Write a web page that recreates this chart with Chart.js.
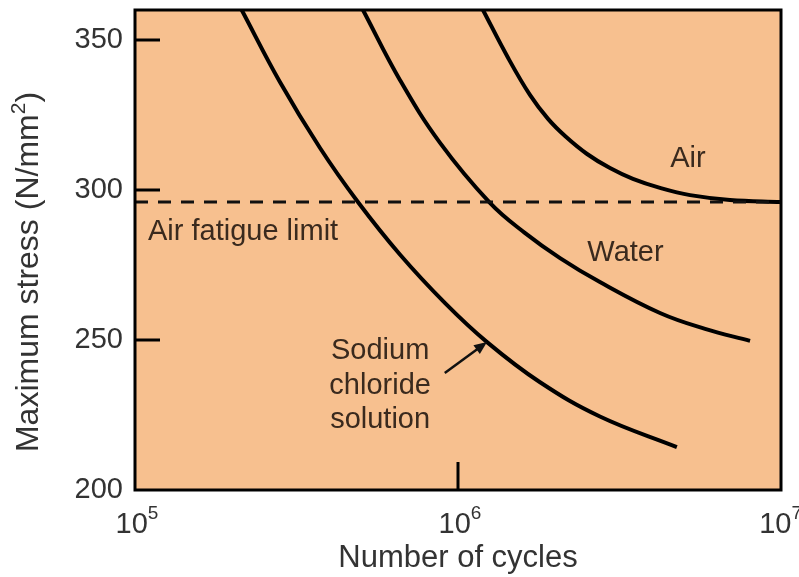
<!DOCTYPE html>
<html>
<head>
<meta charset="utf-8">
<script src="https://cdn.jsdelivr.net/npm/chart.js@4"></script>
<style>
  html, body { margin: 0; padding: 0; background: #fff; }
  #wrap { width: 799px; height: 577px; }
</style>
</head>
<body>
<div id="wrap"><canvas id="snChart" width="799" height="577"></canvas></div>
<script>
// S-N curves
const sodiumCycles = [2.14e5, 2.81e5, 3.74e5, 4.9e5, 6.61e5, 9.12e5, 1.23e6, 1.79e6, 2.75e6, 4.76e6];
const sodiumStress = [360, 336, 314, 296, 278.5, 262.3, 249.3, 236, 224.5, 214.3];

const waterCycles = [5.08e5, 6.61e5, 8.8e5, 1.256e6, 1.61e6, 2.07e6, 2.75e6, 4.22e6, 5.82e6, 8.02e6];
const waterStress = [360, 336.7, 315.7, 295.7, 285.7, 277.3, 269.3, 259, 253.7, 249.7];

const airCycles = [1.195e6, 1.43e6, 1.67e6, 1.9e6, 2.145e6, 2.51e6, 2.955e6, 3.48e6, 4.22e6, 5.23e6, 6.95e6, 1e7];
const airStress = [360, 344, 331.7, 323.7, 318, 312, 307.3, 303.7, 300.7, 298.3, 296.7, 296];

const fatigueLimit = 296;

const xTickPowers = [5, 6, 7];
const yTickValues = [200, 250, 300, 350];

const toPoints = (xs, ys) => xs.map((x, i) => ({ x: x, y: ys[i] }));

const FONT = "'Liberation Sans', Arial, sans-serif";
const TEXT = '#333';
const NOTE = '#3a2a1e';

// labels in the plot, placed in data units
const notes = [
  { text: 'Air', x: 5.15e6, y: 310.5, align: 'center' },
  { text: 'Water', x: 3.3e6, y: 279, align: 'center' },
  { text: 'Air fatigue limit', x: 1.097e5, y: 286, align: 'left' },
  { text: 'Sodium', x: 5.74e5, y: 246.5, align: 'center' },
  { text: 'chloride', x: 5.74e5, y: 234.7, align: 'center' },
  { text: 'solution', x: 5.74e5, y: 223.3, align: 'center' }
];
const arrowFrom = { x: 9.1e5, y: 239 };
const arrowTo = { x: 1.23e6, y: 249.3 };

const plotDecor = {
  id: 'plotDecor',
  beforeDatasetsDraw(chart) {
    const { ctx, chartArea: a } = chart;
    ctx.save();
    ctx.fillStyle = '#f7c08f';
    ctx.fillRect(a.left, a.top, a.right - a.left, a.bottom - a.top);
    ctx.restore();
  },
  afterDatasetsDraw(chart) {
    const { ctx, chartArea: a, scales } = chart;
    const xs = scales.x, ys = scales.y;
    ctx.save();

    // inner tick marks
    ctx.strokeStyle = '#000';
    ctx.lineWidth = 3;
    yTickValues.slice(1).forEach(v => {
      const py = ys.getPixelForValue(v);
      ctx.beginPath();
      ctx.moveTo(a.left, py);
      ctx.lineTo(a.left + 25, py);
      ctx.stroke();
    });
    const px6 = xs.getPixelForValue(1e6);
    ctx.beginPath();
    ctx.moveTo(px6, a.bottom);
    ctx.lineTo(px6, a.bottom - 28);
    ctx.stroke();

    // frame
    ctx.lineWidth = 3;
    ctx.strokeRect(a.left, a.top, a.right - a.left, a.bottom - a.top);

    // notes
    ctx.fillStyle = NOTE;
    ctx.font = '29px ' + FONT;
    ctx.textBaseline = 'middle';
    notes.forEach(n => {
      ctx.textAlign = n.align;
      ctx.fillText(n.text, xs.getPixelForValue(n.x), ys.getPixelForValue(n.y));
    });

    // arrow
    const x0 = xs.getPixelForValue(arrowFrom.x), y0 = ys.getPixelForValue(arrowFrom.y);
    const x1 = xs.getPixelForValue(arrowTo.x), y1 = ys.getPixelForValue(arrowTo.y);
    const ang = Math.atan2(y1 - y0, x1 - x0);
    ctx.strokeStyle = '#111';
    ctx.lineWidth = 2.5;
    ctx.beginPath();
    ctx.moveTo(x0, y0);
    ctx.lineTo(x1 - 8 * Math.cos(ang), y1 - 8 * Math.sin(ang));
    ctx.stroke();
    ctx.fillStyle = '#111';
    ctx.beginPath();
    ctx.moveTo(x1, y1);
    ctx.lineTo(x1 - 14 * Math.cos(ang - 0.4), y1 - 14 * Math.sin(ang - 0.4));
    ctx.lineTo(x1 - 14 * Math.cos(ang + 0.4), y1 - 14 * Math.sin(ang + 0.4));
    ctx.closePath();
    ctx.fill();

    // x tick labels: 10 with superscript power
    ctx.fillStyle = TEXT;
    ctx.textBaseline = 'alphabetic';
    ctx.textAlign = 'left';
    xTickPowers.forEach(p => {
      const px = xs.getPixelForValue(Math.pow(10, p));
      ctx.font = '29px ' + FONT;
      const wBase = ctx.measureText('10').width;
      ctx.font = '19px ' + FONT;
      const wSup = ctx.measureText(String(p)).width;
      const start = Math.min(px - (wBase + wSup) / 2 + 2, chart.width - wBase - wSup + 3);
      ctx.font = '29px ' + FONT;
      ctx.fillText('10', start, a.bottom + 43);
      ctx.font = '19px ' + FONT;
      ctx.fillText(String(p), start + wBase, a.bottom + 29);
    });

    // y title with a real superscript
    ctx.translate(29, 272);
    ctx.rotate(-Math.PI / 2);
    const main = 'Maximum stress (N/mm';
    ctx.font = '32px ' + FONT;
    const wMain = ctx.measureText(main).width;
    const wClose = ctx.measureText(')').width;
    ctx.font = '21px ' + FONT;
    const wTwo = ctx.measureText('2').width;
    let tx = -(wMain + wTwo + wClose) / 2;
    ctx.textBaseline = 'middle';
    ctx.font = '32px ' + FONT;
    ctx.fillText(main, tx, 0);
    ctx.font = '21px ' + FONT;
    ctx.fillText('2', tx + wMain, -10);
    ctx.font = '32px ' + FONT;
    ctx.fillText(')', tx + wMain + wTwo, 0);

    ctx.restore();
  }
};

const ctx = document.getElementById('snChart').getContext('2d');
new Chart(ctx, {
  type: 'line',
  data: {
    datasets: [
      {
        label: 'Air fatigue limit',
        data: [{ x: 1e5, y: fatigueLimit }, { x: 1e7, y: fatigueLimit }],
        borderColor: '#111',
        borderWidth: 3,
        borderDash: [13, 10],
        pointRadius: 0
      },
      {
        label: 'Sodium chloride solution',
        data: toPoints(sodiumCycles, sodiumStress),
        borderColor: '#000',
        borderWidth: 4,
        pointRadius: 0,
        tension: 0.4
      },
      {
        label: 'Water',
        data: toPoints(waterCycles, waterStress),
        borderColor: '#000',
        borderWidth: 4,
        pointRadius: 0,
        tension: 0.4
      },
      {
        label: 'Air',
        data: toPoints(airCycles, airStress),
        borderColor: '#000',
        borderWidth: 4,
        pointRadius: 0,
        tension: 0.4
      }
    ]
  },
  options: {
    responsive: false,
    animation: false,
    layout: { padding: { top: 10, right: 18, left: 0, bottom: 0 } },
    plugins: {
      legend: { display: false },
      tooltip: { enabled: false }
    },
    scales: {
      x: {
        type: 'logarithmic',
        min: 1e5,
        max: 1e7,
        grid: { display: false },
        border: { display: false },
        ticks: { display: false },
        afterFit: s => {
          s.height = 87;
          s.paddingLeft = 0;
          s.paddingRight = 0;
        },
        title: {
          display: true,
          text: 'Number of cycles',
          color: TEXT,
          font: { family: FONT, size: 31 },
          padding: { top: 0, bottom: 0 }
        }
      },
      y: {
        min: 200,
        max: 360,
        grid: { display: false },
        border: { display: false },
        afterBuildTicks: s => { s.ticks = yTickValues.map(v => ({ value: v })); },
        afterFit: s => {
          s.width = 135;
          s.paddingTop = 0;
          s.paddingBottom = 0;
        },
        ticks: {
          color: TEXT,
          font: { family: FONT, size: 29 },
          padding: 4
        }
      }
    }
  },
  plugins: [plotDecor]
});
</script>
</body>
</html>
